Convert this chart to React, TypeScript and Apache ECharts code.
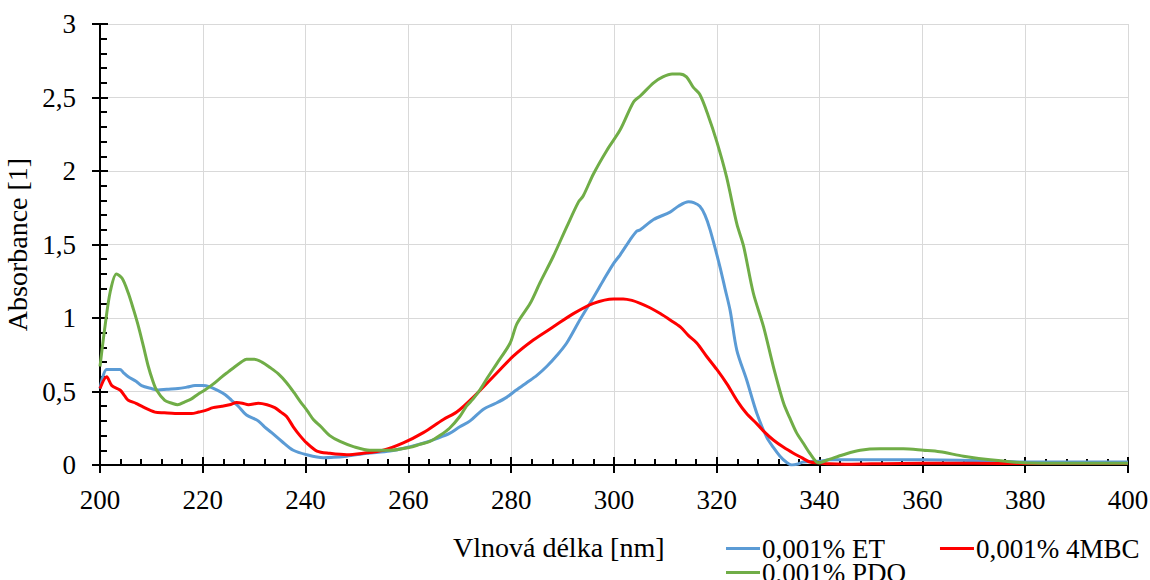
import React, { useEffect, useRef } from "react";
import * as echarts from "echarts";

const seriesNames = ["0,001% ET", "0,001% 4MBC", "0,001% PDO"];

const etNm = [200, 201.3, 202.5, 203.9, 204.5, 205.5, 207, 208.1, 210, 211.3, 213, 215.2, 217, 218.5, 220, 221.1, 222.8, 224.3, 225.6, 226.9, 228.5, 230.8, 232, 233.4, 235.4, 237.6, 240.2, 243.4, 248, 251.9, 256.4, 260.9, 263, 265.5, 268, 270, 272, 274.6, 277, 279.1, 281, 283, 285, 286.9, 289, 290.8, 293.4, 296, 298, 299.9, 301.2, 303.1, 304.4, 305.1, 307.7, 310.9, 312.5, 314.5, 315.5, 316.7, 317.7, 318.7, 320.6, 321.6, 322.6, 323.9, 325.8, 327.8, 329.7, 331, 332.3, 333.5, 334.6, 335.6, 336.8, 339.8, 342, 350, 360, 370, 375, 380, 390, 400];
const etAbs = [0.52, 0.65, 0.65, 0.65, 0.63, 0.6, 0.57, 0.54, 0.52, 0.51, 0.515, 0.52, 0.53, 0.54, 0.54, 0.535, 0.51, 0.48, 0.44, 0.4, 0.34, 0.3, 0.26, 0.22, 0.16, 0.1, 0.07, 0.05, 0.06, 0.08, 0.095, 0.13, 0.15, 0.18, 0.215, 0.26, 0.3, 0.38, 0.42, 0.46, 0.51, 0.56, 0.61, 0.67, 0.75, 0.83, 0.99, 1.14, 1.26, 1.37, 1.43, 1.53, 1.59, 1.6, 1.67, 1.72, 1.76, 1.79, 1.785, 1.76, 1.7, 1.6, 1.35, 1.2, 1.05, 0.78, 0.58, 0.35, 0.19, 0.12, 0.06, 0.02, 0.0, 0.005, 0.02, 0.025, 0.035, 0.035, 0.035, 0.03, 0.025, 0.02, 0.02, 0.02];

const mbcNm = [200, 201.3, 202.3, 203.9, 204.8, 205.5, 207, 208.1, 210.7, 212.5, 214.6, 217.8, 219.2, 220.4, 222, 223.7, 225.2, 226.6, 227.7, 228.9, 230.8, 232.5, 234, 235.2, 236.3, 237.6, 238.9, 240.2, 242.2, 244.7, 248, 251.2, 255.1, 259, 262.9, 266.8, 269.4, 272.6, 276.5, 280.4, 284.3, 288.2, 292.1, 296, 299.9, 301.8, 303.5, 305.1, 307, 309, 311, 312.9, 314.5, 316.1, 318, 320, 322, 323.9, 325.8, 327.8, 329.4, 331, 333, 334.9, 336.5, 338.1, 339.8, 342, 345, 350, 360, 370, 380, 390, 400];
const mbcAbs = [0.52, 0.6, 0.54, 0.51, 0.47, 0.44, 0.42, 0.4, 0.36, 0.355, 0.35, 0.35, 0.36, 0.37, 0.39, 0.4, 0.41, 0.425, 0.42, 0.41, 0.42, 0.41, 0.39, 0.36, 0.33, 0.26, 0.2, 0.15, 0.095, 0.08, 0.07, 0.08, 0.1, 0.15, 0.22, 0.31, 0.36, 0.46, 0.6, 0.74, 0.85, 0.94, 1.03, 1.1, 1.13, 1.13, 1.12, 1.1, 1.07, 1.03, 0.985, 0.94, 0.88, 0.83, 0.74, 0.65, 0.55, 0.44, 0.35, 0.28, 0.22, 0.17, 0.12, 0.08, 0.05, 0.02, 0.015, 0.008, 0.005, 0.008, 0.012, 0.012, 0.01, 0.01, 0.01];

const pdoNm = [200, 201, 202, 203.2, 204.3, 205.5, 206.5, 207.5, 208.5, 209.4, 210.2, 211, 212.6, 214, 215.1, 216.5, 217.8, 219, 220.4, 222, 223.7, 225, 226.3, 227.5, 228.5, 230, 231.5, 233, 234.7, 236.3, 237.8, 239, 240.3, 241.5, 243, 244.7, 246.7, 249.3, 252.5, 256.4, 260.3, 262.2, 264.2, 266.1, 268, 270, 271.3, 272.6, 273.9, 275.5, 277.2, 279.8, 281.1, 283.7, 285.6, 288.2, 290.8, 293.1, 294, 296, 298.6, 301.2, 303.8, 305.1, 307.7, 309.5, 311.3, 312.8, 314.1, 315.4, 316.7, 318.3, 320, 321.9, 323.9, 325.2, 327.1, 329.1, 331, 333, 334.2, 335.5, 336.8, 338.1, 339.8, 342, 344.6, 347.9, 351.8, 356.3, 360.2, 363.4, 368, 373.2, 379.6, 385, 390, 395, 400];
const pdoAbs = [0.67, 0.95, 1.18, 1.3, 1.27, 1.17, 1.06, 0.94, 0.8, 0.67, 0.58, 0.51, 0.44, 0.42, 0.41, 0.43, 0.45, 0.48, 0.51, 0.55, 0.6, 0.635, 0.67, 0.7, 0.72, 0.72, 0.7, 0.665, 0.62, 0.56, 0.49, 0.43, 0.37, 0.31, 0.26, 0.2, 0.16, 0.125, 0.1, 0.1, 0.12, 0.14, 0.16, 0.2, 0.25, 0.33, 0.4, 0.45, 0.51, 0.6, 0.69, 0.83, 0.96, 1.1, 1.24, 1.42, 1.62, 1.79, 1.83, 1.98, 2.14, 2.28, 2.47, 2.51, 2.6, 2.64, 2.66, 2.66, 2.64, 2.57, 2.52, 2.38, 2.2, 1.96, 1.64, 1.49, 1.17, 0.94, 0.67, 0.42, 0.32, 0.22, 0.15, 0.08, 0.015, 0.04, 0.07, 0.1, 0.11, 0.11, 0.1, 0.09, 0.06, 0.035, 0.015, 0.012, 0.012, 0.012, 0.012];

const xTitle = "Vlnová délka [nm]";
const yTitle = "Absorbance [1]";

const FONT = "'Liberation Serif', 'Times New Roman', serif";
const FS = 27;
const FS_TITLE = 28;

function zip(xs: number[], ys: number[]) {
  return xs.map((x, i) => [x, ys[i]]);
}

export default function App() {
  const ref = useRef<HTMLDivElement>(null);
  useEffect(() => {
    document.body.style.margin = "0";
    const chart = echarts.init(ref.current!, null, { renderer: "svg" });
    const xBase = {
      type: "value" as const,
      min: 200,
      max: 400,
      interval: 20,
      position: "bottom" as const,
    };
    const yBase = {
      type: "value" as const,
      min: 0,
      max: 3,
      interval: 0.5,
      position: "left" as const,
    };
    const txt = { color: "#000", fontFamily: FONT, fontSize: FS };
    chart.setOption({
      animation: false,
      backgroundColor: "#ffffff",
      textStyle: { fontFamily: FONT },
      grid: {
        left: 100,
        right: 22,
        top: 24,
        bottom: 115,
        containLabel: false,
        outerBoundsMode: "none",
      },
      xAxis: [
        {
          ...xBase,
          axisLine: { show: true, lineStyle: { color: "#000", width: 2 } },
          axisTick: { show: true, inside: true, length: 8, lineStyle: { color: "#000", width: 2 } },
          minorTick: { show: true, splitNumber: 5, length: 6, lineStyle: { color: "#000", width: 2 } },
          splitLine: { show: true, lineStyle: { color: "#d9d9d9", width: 1 } },
          axisLabel: { ...txt, margin: 21 },
        },
        {
          ...xBase,
          axisLine: { show: false },
          axisTick: { show: true, inside: false, length: 8, lineStyle: { color: "#000", width: 2 } },
          splitLine: { show: false },
          axisLabel: { show: false },
        },
      ],
      yAxis: [
        {
          ...yBase,
          name: yTitle,
          nameLocation: "middle",
          nameGap: 68,
          nameTextStyle: { ...txt, fontSize: FS_TITLE },
          axisLine: { show: true, lineStyle: { color: "#000", width: 2 } },
          axisTick: { show: true, inside: true, length: 8, lineStyle: { color: "#000", width: 2 } },
          minorTick: { show: true, splitNumber: 5, length: 7, lineStyle: { color: "#000", width: 2 } },
          splitLine: { show: true, lineStyle: { color: "#d9d9d9", width: 1 } },
          axisLabel: {
            ...txt,
            margin: 24,
            formatter: (v: number) => String(v).replace(".", ","),
          },
        },
        {
          ...yBase,
          axisLine: { show: false },
          axisTick: { show: true, inside: false, length: 8, lineStyle: { color: "#000", width: 2 } },
          splitLine: { show: false },
          axisLabel: { show: false },
        },
      ],
      legend: [
        {
          data: [seriesNames[0], seriesNames[1]],
          left: 721,
          top: 530,
          itemGap: 55,
          itemWidth: 34,
          itemHeight: 3,
          icon: "rect",
          textStyle: { ...txt, padding: [0, 0, 0, -3], lineHeight: 24 },
        },
        {
          data: [seriesNames[2]],
          left: 721,
          top: 554,
          itemWidth: 34,
          itemHeight: 3,
          icon: "rect",
          textStyle: { ...txt, padding: [0, 0, 0, -3], lineHeight: 24 },
        },
      ],
      graphic: [
        {
          type: "text",
          left: 453,
          top: 533,
          style: { text: xTitle, fill: "#000", font: `${FS_TITLE}px ${FONT}` },
        },
      ],
      series: [
        {
          name: seriesNames[0],
          type: "line",
          data: zip(etNm, etAbs),
          symbol: "none",
          smooth: 0.3,
          lineStyle: { color: "#5B9BD5", width: 3 },
          itemStyle: { color: "#5B9BD5" },
          z: 3,
        },
        {
          name: seriesNames[1],
          type: "line",
          data: zip(mbcNm, mbcAbs),
          symbol: "none",
          smooth: 0.3,
          lineStyle: { color: "#FF0000", width: 3 },
          itemStyle: { color: "#FF0000" },
          z: 4,
        },
        {
          name: seriesNames[2],
          type: "line",
          data: zip(pdoNm, pdoAbs),
          symbol: "none",
          smooth: 0.3,
          lineStyle: { color: "#70AD47", width: 3 },
          itemStyle: { color: "#70AD47" },
          z: 5,
        },
      ],
    });
    return () => chart.dispose();
  }, []);
  return <div ref={ref} style={{ width: 1150, height: 580 }} />;
}
